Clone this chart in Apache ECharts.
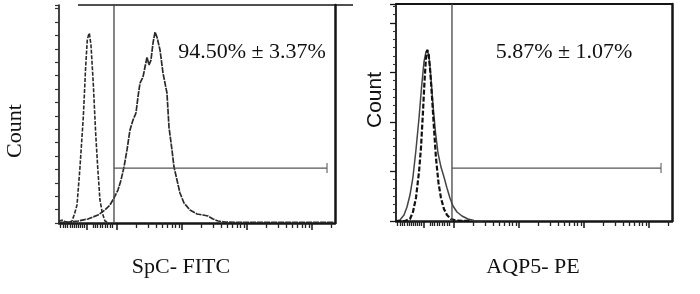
<!DOCTYPE html>
<html>
<head>
<meta charset="utf-8">
<script src="https://cdn.jsdelivr.net/npm/echarts@6/dist/echarts.min.js"></script>
<style>
  html, body { margin: 0; padding: 0; background: #fff; }
  #chart { width: 700px; height: 294px; }
</style>
</head>
<body>
<div id="chart"></div>
<script>
// x in log decades of fluorescence, y in counts (arbitrary units)
var xMin = 0.108, xMax = 4.354;
var spcYMax = 162.7, aqpYMax = 263;

// SpC-FITC panel
var spcControl = [[0.108,1.5],[0.169,2.2],[0.215,0.7],[0.277,0.7],[0.308,1.5],[0.346,6.7],[0.385,13.4],
  [0.431,41.8],[0.482,79.1],[0.518,116.4],[0.543,136.5],[0.562,140.2],[0.574,141.7],[0.6,132.8],
  [0.635,104.4],[0.672,67.1],[0.703,41.8],[0.738,17.2],[0.774,7.5],[0.815,1.5],[0.862,0.4]];
var spcSample = [[0.108,0.4],[0.277,0.7],[0.4,1.5],[0.554,3.0],[0.708,6.0],[0.815,9.7],[0.892,13.4],
  [0.954,18.7],[1.015,24.6],[1.062,32.1],[1.108,41.8],[1.154,54.5],[1.2,69.4],[1.246,76.8],[1.292,82.1],
  [1.323,94.0],[1.354,104.4],[1.4,108.9],[1.431,116.4],[1.462,123.8],[1.492,117.9],[1.523,121.6],
  [1.554,134.3],[1.585,142.5],[1.615,138.8],[1.662,129.1],[1.708,111.9],[1.769,97.0],[1.8,71.6],
  [1.846,54.5],[1.877,41.8],[1.923,32.1],[1.969,22.4],[2.031,14.9],[2.123,9.7],[2.231,6.7],[2.323,6.0],
  [2.4,5.2],[2.477,3.0],[2.554,1.5],[2.662,0.7],[2.892,0.4],[4.354,0.4]];
var spcGate = 0.954, spcMarkY = 41.0, spcMarkEnd = 4.231;

// AQP5-PE panel
var aqpControl = [[0.108,0],[0.246,0],[0.323,2.4],[0.369,10.9],[0.415,27.9],[0.462,59.4],[0.492,88.5],
  [0.523,132.1],[0.546,168.5],[0.569,197.6],[0.589,207.3],[0.608,203.6],[0.631,185.4],[0.662,150.3],
  [0.692,112.7],[0.723,76.4],[0.762,46.1],[0.8,27.9],[0.846,14.5],[0.892,7.3],[0.954,2.4],[1.031,0.6],[1.246,0]];
var aqpSample = [[0.108,0],[0.169,1.2],[0.231,7.3],[0.277,17.0],[0.323,31.5],[0.369,53.3],[0.415,86.1],
  [0.462,124.8],[0.5,161.2],[0.538,192.7],[0.569,204.8],[0.589,207.3],[0.615,200.0],[0.646,173.3],
  [0.677,140.6],[0.715,107.9],[0.754,82.4],[0.8,65.4],[0.846,53.3],[0.892,40.0],[0.938,27.9],[0.985,18.2],
  [1.046,10.9],[1.123,6.1],[1.215,2.4],[1.308,0.6],[1.431,0]];
var aqpGate = 0.969, aqpMarkY = 64.2, aqpMarkEnd = 4.185;

var labels = {
  spcX: "SpC- FITC", aqpX: "AQP5- PE", y: "Count",
  spcPct: "94.50% ± 3.37%", aqpPct: "5.87% ± 1.07%"
};

// tick positions (decades)
var firstDecadeTicks = [0.13,0.17,0.2,0.24,0.28,0.31,0.34,0.37,0.4,0.43,0.46,0.49,
  0.63,0.66,0.7,0.74,0.78,0.82,0.85,0.89,0.93];
var majorTicks = [0.53, 1, 2, 3, 4];
var minorTicks = firstDecadeTicks.slice();
for (var d = 1; d <= 4; d++) {
  for (var k = 2; k <= 9; k++) {
    var v = d + Math.log10(k);
    if (v < xMax) minorTicks.push(+v.toFixed(3));
  }
}

var ink = "#151515";

function xAxes(gi) {
  return [
    { gridIndex: gi, type: "value", min: xMin, max: xMax, position: "bottom",
      axisLine: { show: true, lineStyle: { color: ink, width: 2.5 } },
      axisTick: { show: true, inside: false, length: 5, customValues: minorTicks, lineStyle: { color: "#222", width: 1.3 } },
      axisLabel: { show: false }, splitLine: { show: false } },
    { gridIndex: gi, type: "value", min: xMin, max: xMax, position: "bottom",
      axisLine: { show: false },
      axisTick: { show: true, inside: false, length: 7, customValues: majorTicks, lineStyle: { color: ink, width: 1.5 } },
      axisLabel: { show: false }, splitLine: { show: false } }
  ];
}

function curve(name, data, xi, yi, color, width, type) {
  return { name: name, type: "line", xAxisIndex: xi, yAxisIndex: yi, data: data,
    showSymbol: false, smooth: false, silent: true, z: 3,
    lineStyle: { color: color, width: width, type: type } };
}
function gateSeries(xi, yi, gx, yMax, my, mend) {
  return [
    { type: "line", xAxisIndex: xi, yAxisIndex: yi, data: [[gx, 0], [gx, yMax]], showSymbol: false, silent: true,
      lineStyle: { color: "#444", width: 1.3 } },
    { type: "line", xAxisIndex: xi, yAxisIndex: yi, data: [[gx, my], [mend, my]], showSymbol: false, silent: true,
      lineStyle: { color: "#555", width: 1.2 } },
    { type: "scatter", xAxisIndex: xi, yAxisIndex: yi, data: [[mend, my]], symbol: "rect", symbolSize: [1.3, 10],
      silent: true, itemStyle: { color: "#555" } }
  ];
}

var chart = echarts.init(document.getElementById("chart"));
var serif = "'Liberation Serif', 'DejaVu Serif', serif";
var sans = "'Liberation Sans', Arial, sans-serif";

var option = {
  animation: false,
  backgroundColor: "#fff",
  grid: [
    { left: 59, right: 365, top: 5, bottom: 71 },
    { left: 396, right: 28, top: 4, bottom: 73 }
  ],
  xAxis: xAxes(0).concat(xAxes(1)).concat([
    { gridIndex: 1, type: "value", min: xMin, max: xMax, position: "top",
      axisLine: { show: true, lineStyle: { color: ink, width: 1.8 } },
      axisTick: { show: false }, axisLabel: { show: false }, splitLine: { show: false } }
  ]),
  yAxis: [
    { gridIndex: 0, type: "value", min: 0, max: spcYMax, interval: 10,
      axisLine: { show: true, lineStyle: { color: ink, width: 1.6 } },
      axisTick: { show: true, length: 4, lineStyle: { color: "#333", width: 1.2 } },
      axisLabel: { show: false }, splitLine: { show: false } },
    { gridIndex: 0, type: "value", min: 0, max: spcYMax, position: "right",
      axisLine: { show: true, lineStyle: { color: ink, width: 2.5 } },
      axisTick: { show: false }, axisLabel: { show: false }, splitLine: { show: false } },
    { gridIndex: 1, type: "value", min: 0, max: aqpYMax, interval: 60,
      axisLine: { show: true, lineStyle: { color: ink, width: 1.8 } },
      axisTick: { show: true, length: 6, lineStyle: { color: ink, width: 1.3 } },
      minorTick: { show: true, splitNumber: 6, length: 3, lineStyle: { color: "#333", width: 1.1 } },
      axisLabel: { show: false }, splitLine: { show: false }, minorSplitLine: { show: false } },
    { gridIndex: 1, type: "value", min: 0, max: aqpYMax, position: "right",
      axisLine: { show: true, lineStyle: { color: ink, width: 2.5 } },
      axisTick: { show: false }, axisLabel: { show: false }, splitLine: { show: false } }
  ],
  series: [
    curve("SpC control", spcControl, 0, 0, "#2a2a2a", 1.6, [4, 1.5]),
    curve("SpC-FITC", spcSample, 0, 0, "#2a2a2a", 1.7, [6, 1]),
    curve("AQP5 sample", aqpSample, 2, 2, "#444", 1.5, "solid"),
    curve("AQP5 control", aqpControl, 2, 2, "#111", 2.2, [5, 2])
  ].concat(gateSeries(0, 0, spcGate, spcYMax, spcMarkY, spcMarkEnd))
   .concat(gateSeries(2, 2, aqpGate, aqpYMax, aqpMarkY, aqpMarkEnd)),
  graphic: [
    { type: "line", shape: { x1: 78, y1: 5, x2: 353, y2: 5 }, style: { stroke: ink, lineWidth: 1.6 }, silent: true },
    { type: "text", x: 15, y: 131, rotation: Math.PI / 2,
      style: { text: labels.y, font: "22px " + serif, fill: "#111", textAlign: "center", textVerticalAlign: "middle" } },
    { type: "text", x: 375, y: 100, rotation: Math.PI / 2,
      style: { text: labels.y, font: "21px " + sans, fill: "#111", textAlign: "center", textVerticalAlign: "middle" } },
    { type: "text", x: 181, y: 267,
      style: { text: labels.spcX, font: "22px " + serif, fill: "#111", textAlign: "center", textVerticalAlign: "middle" } },
    { type: "text", x: 533, y: 267,
      style: { text: labels.aqpX, font: "22px " + serif, fill: "#111", textAlign: "center", textVerticalAlign: "middle" } },
    { type: "text", x: 252, y: 52,
      style: { text: labels.spcPct, font: "22px " + serif, fill: "#111", textAlign: "center", textVerticalAlign: "middle" } },
    { type: "text", x: 564, y: 52,
      style: { text: labels.aqpPct, font: "22px " + serif, fill: "#111", textAlign: "center", textVerticalAlign: "middle" } }
  ]
};
chart.setOption(option);
</script>
</body>
</html>
